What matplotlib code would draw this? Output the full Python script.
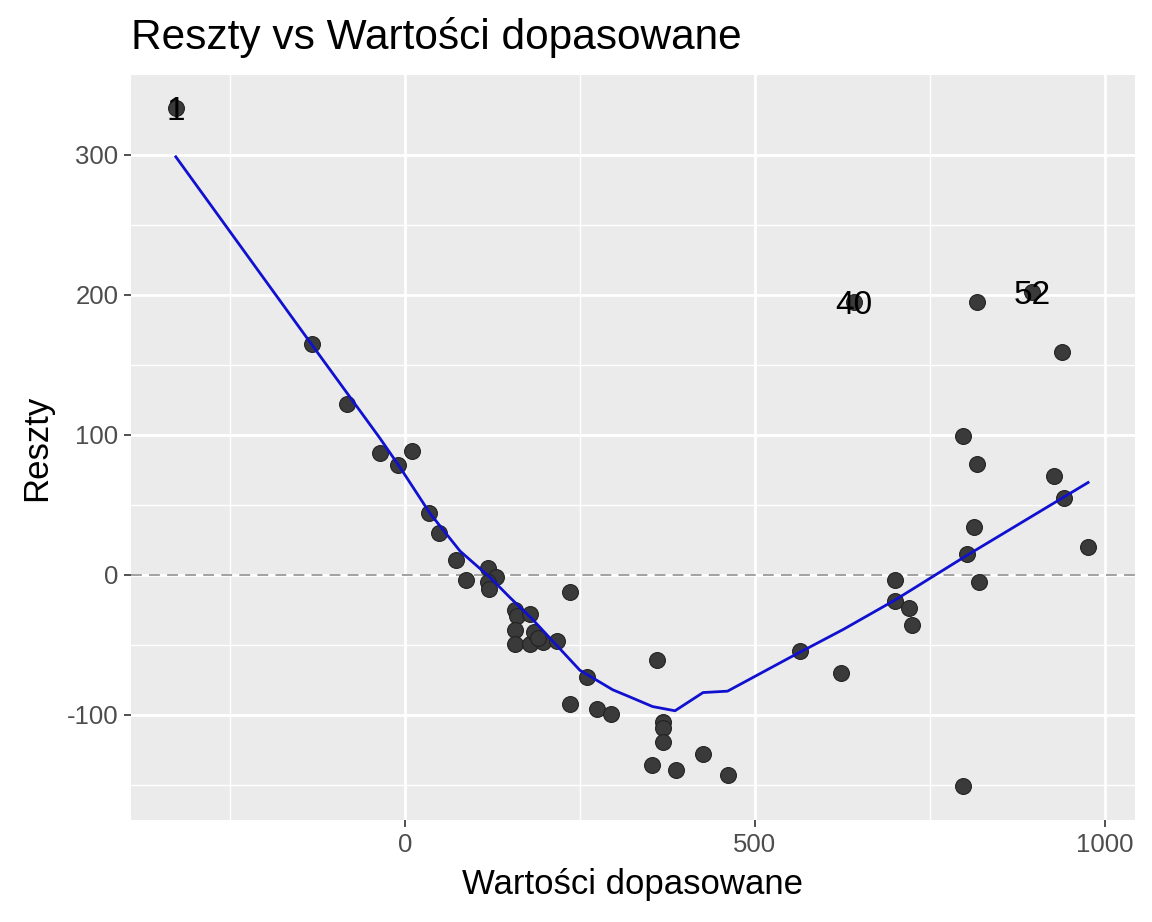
import matplotlib
matplotlib.use("Agg")
import matplotlib.pyplot as plt
import numpy as np

plt.rcParams['font.family'] = ['Liberation Sans', 'DejaVu Sans']

# fitted values and residuals
fitted = [-327, -133, -83, -36, -9, 10, 34, 49, 73, 87, 119, 131, 119, 120,
          157, 160, 179, 157, 157, 179, 184, 197, 217, 190, 236, 260, 236, 274, 294,
          360, 369, 369, 369, 353, 387, 426, 461,
          564, 623, 641, 700, 700, 720, 724,
          797, 797, 803, 813, 817, 817, 820, 896, 927, 939, 941, 976]
resid = [333.6, 165, 122, 87, 78.6, 88.6, 44, 30, 11, -3.6, 5, -1.4, -5, -10,
         -25, -29, -28, -39, -49, -49, -41, -48, -47, -45, -12, -73, -92, -96, -99,
         -61, -105, -109, -119, -136, -139, -128, -143,
         -54, -70, 195, -3.6, -18.6, -23.6, -36,
         99, -151, 15, 34, 195, 79, -5, 202, 71, 159, 55, 20]

# smooth (loess) curve
smooth_x = [-327, -133, -36, -7, 36, 79, 121, 150, 183, 250, 297, 321, 354, 386, 426, 461, 550, 626, 700, 803, 976]
smooth_y = [298.6, 164.6, 98, 77, 44, 17, -1.4, -16, -32, -68, -82, -87, -94, -97, -84, -83, -59, -39, -18, 14, 66]

# labelled outliers
lab_text = ["1", "40", "52"]
lab_x = [-327, 641, 896]
lab_y = [333.6, 195, 202]

x_breaks = [0, 500, 1000]
x_minor = [-250, 250, 750]
y_breaks = [-100, 0, 100, 200, 300]
y_minor = [-150, -50, 50, 150, 250]

fig = plt.figure(figsize=(11.52, 9.22), dpi=100)
ax = fig.add_axes([131/1152, 1-820/922, (1135-131)/1152, (820-75)/922])
ax.set_facecolor('#EBEBEB')
for s in ax.spines.values():
    s.set_visible(False)

ax.set_xlim(-391, 1043)
ax.set_ylim(-175, 357)

for v in x_minor:
    ax.axvline(v, color='white', lw=1.0, zorder=0)
for v in y_minor:
    ax.axhline(v, color='white', lw=1.0, zorder=0)
for v in x_breaks:
    ax.axvline(v, color='white', lw=2.0, zorder=0)
for v in y_breaks:
    ax.axhline(v, color='white', lw=2.0, zorder=0)

ax.axhline(0, color='#9a9a9a', lw=1.3, ls=(0, (6, 4)), zorder=1)

ax.scatter(fitted, resid, s=130, color='#3a3a3a', edgecolors='#222222', linewidths=0.8, zorder=2)
ax.plot(smooth_x, smooth_y, color='#1010d0', lw=2.0, zorder=3)

for t, xx, yy in zip(lab_text, lab_x, lab_y):
    ax.annotate(t, (xx, yy), xytext=(0, -8.5), textcoords='offset points',
                fontsize=24, ha='center', va='baseline', color='black', zorder=4)

ax.set_xticks(x_breaks)
ax.set_yticks(y_breaks)
ax.set_xticklabels([str(v) for v in x_breaks])
ax.set_yticklabels([str(v) for v in y_breaks])
ax.tick_params(axis='both', labelsize=18.5, labelcolor='#4D4D4D', color='#333333',
               length=5, width=1.2, pad=4)

ax.set_xlabel('Wartości dopasowane', fontsize=25, labelpad=8)
ax.set_ylabel('Reszty', fontsize=25, labelpad=10)

fig.text(131/1152, 1-38/922, 'Reszty vs Wartości dopasowane', fontsize=30.5, ha='left', va='center')

fig.savefig('out.png', dpi=100)
